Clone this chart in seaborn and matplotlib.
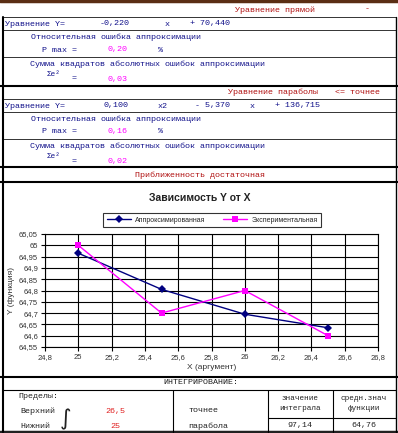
import matplotlib
matplotlib.use("Agg")
import matplotlib.pyplot as plt
import seaborn as sns
import pandas as pd
from matplotlib.lines import Line2D

# данные графика
x_vals = [25.0, 25.5, 26.0, 26.5]
y_approx = [64.965, 64.805, 64.695, 64.635]
y_exper = [65.00, 64.70, 64.80, 64.60]
series_names = ["Аппроксимированная", "Экспериментальная"]

x_ticks = [24.8, 25.0, 25.2, 25.4, 25.6, 25.8, 26.0, 26.2, 26.4, 26.6, 26.8]
x_tick_labels = ["24,8", "25", "25,2", "25,4", "25,6", "25,8", "26", "26,2", "26,4", "26,6", "26,8"]
y_ticks = [64.55, 64.60, 64.65, 64.70, 64.75, 64.80, 64.85, 64.90, 64.95, 65.00, 65.05]
y_tick_labels = ["64,55", "64,6", "64,65", "64,7", "64,75", "64,8", "64,85", "64,9", "64,95", "65", "65,05"]

W, H = 398, 433
BLUE = "#10108a"
RED = "#b01010"
MAG = "#ff00ff"
MONO = "Liberation Mono"

sns.set_style("white")
plt.rcParams["font.family"] = ["Liberation Sans", "DejaVu Sans"]

fig = plt.figure(figsize=(W / 100, H / 100), dpi=100)
fig.patch.set_facecolor("white")


def fx(x):
    return x / W


def fy(y):
    return 1 - y / H


def txt(x, y, s, color=BLUE, ha="left", size=6, family=MONO, **kw):
    fig.text(fx(x), fy(y), s, color=color, ha=ha, va="center",
             fontsize=size, family=family, **kw)


def hline(y, x0=0, x1=W, lw=0.8, color="black"):
    fig.add_artist(Line2D([fx(x0), fx(x1)], [fy(y), fy(y)], lw=lw, color=color,
                          transform=fig.transFigure))


def vline(x, y0, y1, lw=0.8, color="black"):
    fig.add_artist(Line2D([fx(x), fx(x)], [fy(y0), fy(y1)], lw=lw, color=color,
                          transform=fig.transFigure))


# рамки таблицы
hline(1, lw=2.5, color="#5a2e14")
for yy in [17, 30, 57, 99, 112, 139]:
    hline(yy, 3, 396, lw=0.7, color="#333333")
for yy in [86, 167, 182, 377]:
    hline(yy, 0, 398, lw=1.5)
hline(390, 3, 396, lw=0.8)
hline(418, 268, 396, lw=0.8)
hline(432, lw=2.5, color="#222222")
vline(3, 17, 432, lw=1.5)
vline(396, 17, 432, lw=1.0)
vline(173, 390, 432)
vline(268, 390, 432)
vline(333, 390, 432)

# блок прямой
txt(235, 10, "Уравнение прямой", color=RED)
txt(365, 9, "-", color=RED)
txt(5, 24, "Уравнение Y=")
txt(100, 24, "-0,220")
txt(165, 24, "x")
txt(190, 24, "+ 70,440")
txt(31, 37, "Относительная ошибка аппроксимации")
txt(42, 50, "P max =")
txt(108, 50, "0,20", color=MAG)
txt(158, 50, "%")
txt(30, 64, "Сумма квадратов абсолютных ошибок аппроксимации")
txt(47, 74, "Σe²", size=5.5)
txt(72, 79, "=")
txt(108, 79, "0,03", color=MAG)

# блок параболы
txt(228, 92, "Уравнение параболы", color=RED)
txt(335, 92, "<= точнее", color=RED)
txt(5, 106, "Уравнение Y=")
txt(103, 106, "0,100")
txt(158, 106, "x2")
txt(195, 106, "- 5,370")
txt(250, 106, "x")
txt(275, 106, "+ 136,715")
txt(31, 119, "Относительная ошибка аппроксимации")
txt(42, 132, "P max =")
txt(108, 132, "0,16", color=MAG)
txt(158, 132, "%")
txt(30, 146, "Сумма квадратов абсолютных ошибок аппроксимации")
txt(47, 156, "Σe²", size=5.5)
txt(72, 162, "=")
txt(108, 162, "0,02", color=MAG)
txt(200, 175, "Приближенность достаточная", color=RED, ha="center")

# график
ax = fig.add_axes([fx(45), fy(347), (378 - 45) / W, (347 - 234) / H])
df = pd.DataFrame({
    "x": x_vals * 2,
    "y": y_approx + y_exper,
    "series": [series_names[0]] * 4 + [series_names[1]] * 4,
})
sns.lineplot(data=df, x="x", y="y", hue="series", style="series",
             palette=["#000080", MAG], markers=["D", "s"], dashes=False,
             markersize=4.5, linewidth=1.0, markeredgewidth=0, ax=ax)
ax.set_xlim(24.8, 26.8)
ax.set_ylim(64.55, 65.05)
ax.set_xticks(x_ticks)
ax.set_xticklabels(x_tick_labels)
ax.set_yticks(y_ticks)
ax.set_yticklabels(y_tick_labels)
ax.grid(True, color="black", linewidth=0.8)
ax.set_axisbelow(True)
for sp in ax.spines.values():
    sp.set_color("black")
    sp.set_linewidth(0.8)
ax.tick_params(axis="both", labelsize=5.5, colors="black", length=3, width=0.8,
               direction="out", pad=2, labelcolor="#333333")
ax.tick_params(left=True, bottom=True)
ax.set_xlabel("X (аргумент)", fontsize=6, labelpad=2, color="#333333")
ax.set_ylabel("")
handles, labels = ax.get_legend_handles_labels()
ax.get_legend().remove()
leg = fig.legend(handles, labels, loc="center", bbox_to_anchor=(fx(212), fy(220)),
                 ncol=2, fontsize=5, frameon=True, fancybox=False, edgecolor="black",
                 handlelength=3.5, columnspacing=2.5, borderpad=0.5, handletextpad=0.6)
leg.get_frame().set_linewidth(0.8)
fig.text(fx(12), fy(291), "Y (функция)", rotation=90, ha="center", va="center",
         fontsize=6, color="#333333")
fig.text(fx(200), fy(198), "Зависимость Y от X", ha="center", va="center",
         fontsize=7.5, fontweight="bold", color="#222222")

# интегрирование
txt(201, 383, "ИНТЕГРИРОВАНИЕ:", color="#222222", ha="center")
txt(18, 397, "Пределы:", color="#222222")
txt(20, 411, "Верхний", color="#222222")
txt(20, 426, "Нижний", color="#222222")
fig.text(fx(66), fy(419), "∫", ha="center", va="center", fontsize=16,
         family="DejaVu Sans", color="#222222")
txt(115, 411, "26,5", color="#e02020", ha="center")
txt(115, 426, "25", color="#e02020", ha="center")
txt(188, 411, "точнее", color="#222222")
txt(188, 426, "парабола", color="#222222")
txt(300, 398, "значение", color="#222222", ha="center", size=5.5)
txt(300, 409, "интеграла", color="#222222", ha="center", size=5.5)
txt(364, 398, "средн.знач", color="#222222", ha="center", size=5.5)
txt(364, 409, "функции", color="#222222", ha="center", size=5.5)
txt(300, 426, "97,14", color="#222222", ha="center")
txt(364, 426, "64,76", color="#222222", ha="center")

fig.savefig("out.png", dpi=100)
